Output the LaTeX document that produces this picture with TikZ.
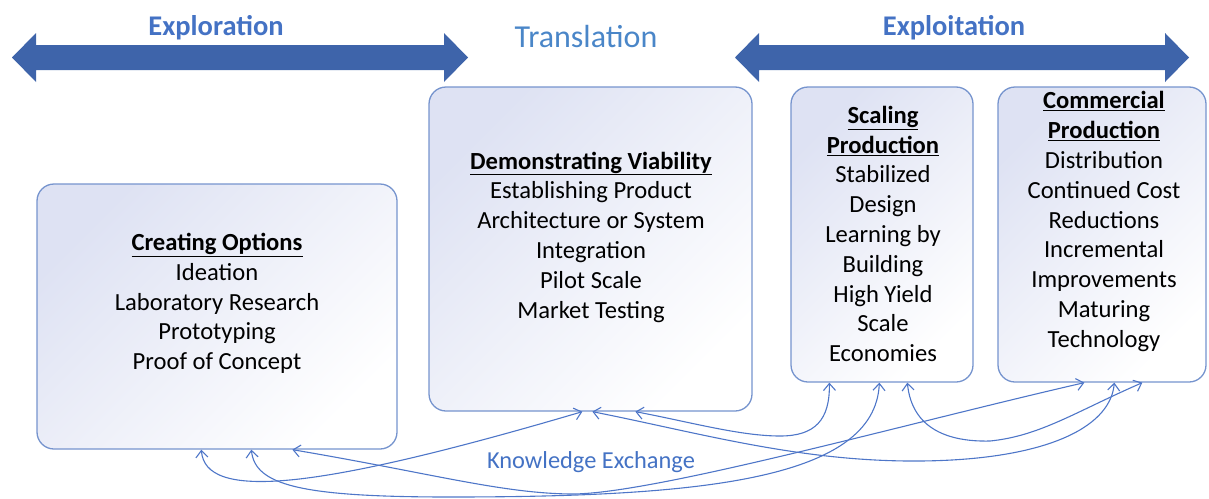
\documentclass[tikz,border=0pt]{standalone}
\usepackage{fontspec}
\setmainfont{Carlito}
\usetikzlibrary{arrows.meta,calc}

\definecolor{arrowblue}{RGB}{62,100,170}
\definecolor{labelblue}{RGB}{68,114,196}
\definecolor{transblue}{RGB}{74,134,200}
\definecolor{boxline}{RGB}{118,148,206}
\definecolor{boxtint}{RGB}{222,226,243}
\definecolor{linkblue}{RGB}{78,118,200}

\tikzset{
  stage/.style={draw=boxline, line width=1.3pt, rounded corners=17pt,
    top color=boxtint, bottom color=white, shading angle=45, inner sep=0pt},
  stagetext/.style={align=center, font=\fontsize{24.6}{29.8}\selectfont,
    inner sep=0pt, text=black},
  phase/.style={font=\bfseries\fontsize{28.5}{34}\selectfont, text=labelblue, inner sep=0pt},
  bigarrow/.style={fill=arrowblue},
  link/.style={draw=linkblue, line width=1.1pt,
    {Straight Barb[length=7pt,width=12pt]}-{Straight Barb[length=7pt,width=12pt]}},
}

\begin{document}
\begin{tikzpicture}[x=1pt,y=-1pt]
  \useasboundingbox (0,0) rectangle (1209,498);

  % phase arrows
  \fill[bigarrow] (12,57.5) -- (36,33) -- (36,45) -- (444,45) -- (444,33) -- (468,57.5)
    -- (444,82) -- (444,70) -- (36,70) -- (36,82) -- cycle;
  \fill[bigarrow] (735,57.5) -- (759,33) -- (759,45) -- (1165,45) -- (1165,33) -- (1189,57.5)
    -- (1165,82) -- (1165,70) -- (759,70) -- (759,82) -- cycle;

  \node[phase] (explore) at (216,28) {Exploration};
  \node[phase] (exploit) at (954,28) {Exploitation};
  \node[font=\fontsize{32}{38}\selectfont, text=transblue, inner sep=0pt] (translate) at (586,37) {Translation};

  % stage boxes
  \node[stage, minimum width=360pt, minimum height=265pt] (co) at (217,316.5) {};
  \node[stage, minimum width=323pt, minimum height=324pt] (dv) at (590.5,249) {};
  \node[stage, minimum width=182pt, minimum height=295pt] (sp) at (882,234.5) {};
  \node[stage, minimum width=208pt, minimum height=295pt] (cp) at (1102,234.5) {};

  \node[stagetext] (cotext) at (217,303.5) {\underline{\textbf{Creating Options}}\\Ideation\\Laboratory Research\\Prototyping\\Proof of Concept};
  \node[stagetext] (dvtext) at (591,237) {\underline{\textbf{Demonstrating Viability}}\\Establishing Product\\Architecture or System\\Integration\\Pilot Scale\\Market Testing};
  \node[stagetext] (sptext) at (883,234) {\underline{\textbf{Scaling}}\\\underline{\textbf{Production}}\\Stabilized\\Design\\Learning by\\Building\\High Yield\\Scale\\Economies};
  \node[stagetext] (cptext) at (1104,221.5) {\underline{\textbf{Commercial}}\\\underline{\textbf{Production}}\\Distribution\\Continued Cost\\Reductions\\Incremental\\Improvements\\Maturing\\Technology};

  % connector ends on the box bottoms
  \coordinate (co-a) at ([xshift=165pt]co.south west);
  \coordinate (co-b) at ([xshift=215pt]co.south west);
  \coordinate (co-c) at ([xshift=256pt]co.south west);
  \coordinate (dv-a) at ([xshift=154pt]dv.south west);
  \coordinate (dv-b) at ([xshift=164pt]dv.south west);
  \coordinate (dv-c) at ([xshift=207pt]dv.south west);
  \coordinate (sp-a) at ([xshift=39pt]sp.south west);
  \coordinate (sp-b) at ([xshift=89pt]sp.south west);
  \coordinate (sp-c) at ([xshift=117pt]sp.south west);
  \coordinate (cp-a) at ([xshift=87pt]cp.south west);
  \coordinate (cp-b) at ([xshift=117pt]cp.south west);
  \coordinate (cp-c) at ([xshift=145pt]cp.south west);

  % knowledge exchange links
  \draw[link] (co-a) .. controls (205,500) and (310,492) .. (dv-a);
  \draw[link] (co-b) .. controls (255,485) and (300,497) .. (450,497)
                     .. controls (700,497) and (875,480) .. (sp-b);
  \draw[link] (co-c) .. controls (430,473) and (500,493) .. (570,494)
                     .. controls (650,495) and (900,425) .. (cp-a);
  \draw[link] (dv-b) .. controls (700,433) and (800,462) .. (920,461)
                     .. controls (1040,460) and (1110,430) .. (cp-b);
  \draw[link] (dv-c) .. controls (690,422) and (740,436) .. (780,436)
                     .. controls (815,436) and (830,420) .. (sp-a);
  \draw[link] (sp-c) .. controls (912,430) and (950,442) .. (990,441)
                     .. controls (1040,436) and (1075,412) .. (cp-c);

  \node[font=\fontsize{24.4}{29.8}\selectfont, text=labelblue, inner sep=0pt] (kx) at (591,462) {Knowledge Exchange};
\end{tikzpicture}
\end{document}
